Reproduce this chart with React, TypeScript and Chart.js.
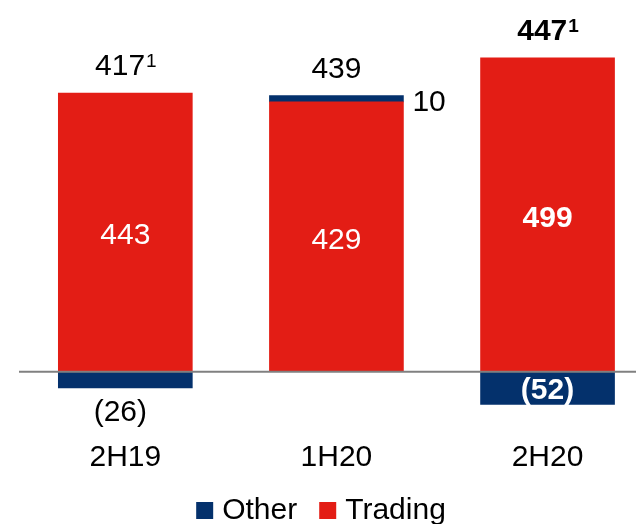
import React, { useEffect, useRef } from 'react';
import { Chart, registerables } from 'chart.js';

Chart.register(...registerables);

// ---- data ----
const categories = ['2H19', '1H20', '2H20'];
const tradingValues = [443, 429, 499];
const otherValues = [-26, 10, -52];
const totalValues = [417, 439, 447];
const totalFootnotes = ['1', '', '1'];

// ---- styles ----
const boldCategory = [false, false, true];
const otherLabelPlacement = ['below', 'right', 'inside'];
const RED = '#E31D15';
const NAVY = '#04316C';
const FONT = "'Liberation Sans', Arial, Helvetica, sans-serif";
const FS = 30;
const SUP = 19;
const X_MIN = -0.5936;
const X_MAX = 2.419;

const fmt = (v: number) => (v < 0 ? `(${Math.abs(v)})` : String(v));
const font = (size: number, bold: boolean) => `${bold ? 'bold ' : ''}${size}px ${FONT}`;

const labelPlugin = {
  id: 'customLabels',
  afterDraw(chart: any) {
    const ctx: CanvasRenderingContext2D = chart.ctx;
    const ys = chart.scales.y;
    const ca = chart.chartArea;
    const tradingMeta = chart.getDatasetMeta(0);
    const otherMeta = chart.getDatasetMeta(1);
    ctx.save();

    // zero baseline
    const y0 = ys.getPixelForValue(0);
    ctx.strokeStyle = '#808080';
    ctx.lineWidth = 2;
    ctx.beginPath();
    ctx.moveTo(19, y0);
    ctx.lineTo(ca.right, y0);
    ctx.stroke();

    const cap = FS * 0.716;
    ctx.textBaseline = 'alphabetic';

    categories.forEach((_, i) => {
      const bold = boldCategory[i];
      const tEl = tradingMeta.data[i];
      const oEl = otherMeta.data[i];

      // trading label, centered inside red segment
      ctx.fillStyle = '#fff';
      ctx.textAlign = 'center';
      ctx.font = font(FS, bold);
      const tMid = (tEl.y + tEl.base) / 2;
      ctx.fillText(fmt(tradingValues[i]), tEl.x, tMid + cap / 2 + 1);

      // other label
      const oTop = Math.min(oEl.y, oEl.base);
      const oBot = Math.max(oEl.y, oEl.base);
      const oMid = (oTop + oBot) / 2;
      const place = otherLabelPlacement[i];
      ctx.font = font(FS, bold);
      if (place === 'below') {
        ctx.fillStyle = '#000';
        ctx.textAlign = 'center';
        ctx.fillText(fmt(otherValues[i]), oEl.x - 5, oBot + 33);
      } else if (place === 'right') {
        ctx.fillStyle = '#000';
        ctx.textAlign = 'left';
        ctx.fillText(fmt(otherValues[i]), oEl.x + oEl.width / 2 + 9, oMid + cap / 2 + 2);
      } else {
        ctx.fillStyle = '#fff';
        ctx.textAlign = 'center';
        ctx.fillText(fmt(otherValues[i]), oEl.x, oMid + cap / 2);
      }

      // total label above positive stack
      let pos = 0;
      if (tradingValues[i] > 0) pos += tradingValues[i];
      if (otherValues[i] > 0) pos += otherValues[i];
      const topY = ys.getPixelForValue(pos);
      const base = topY - 18;
      const main = String(totalValues[i]);
      const sup = totalFootnotes[i];
      ctx.font = font(FS, bold);
      const wMain = ctx.measureText(main).width;
      ctx.font = font(SUP, bold);
      const wSup = sup ? ctx.measureText(sup).width : 0;
      const start = tEl.x - (wMain + wSup) / 2;
      ctx.fillStyle = '#000';
      ctx.textAlign = 'left';
      ctx.font = font(FS, bold);
      ctx.fillText(main, start, base);
      if (sup) {
        ctx.font = font(SUP, bold);
        ctx.fillText(sup, start + wMain + 1, base - (FS - SUP) * 0.716);
      }
    });

    // legend (Other, Trading)
    const items = [...chart.data.datasets].reverse();
    const box = 17;
    const gap = 9;
    const spacing = 22;
    ctx.font = font(FS, false);
    const widths = items.map((d: any) => box + gap + ctx.measureText(d.label).width);
    const total = widths.reduce((a: number, b: number) => a + b, 0) + spacing * (items.length - 1);
    let lx = chart.width / 2 + 3 - total / 2;
    const lBase = 519;
    items.forEach((d: any, k: number) => {
      ctx.fillStyle = d.backgroundColor;
      ctx.fillRect(lx, lBase - box, box, box);
      ctx.fillStyle = '#000';
      ctx.textAlign = 'left';
      ctx.fillText(d.label, lx + box + gap, lBase);
      lx += widths[k] + spacing;
    });

    ctx.restore();
  },
};

export default function App() {
  const ref = useRef<HTMLCanvasElement>(null);
  useEffect(() => {
    const chart = new Chart(ref.current as HTMLCanvasElement, {
      type: 'bar',
      data: {
        datasets: [
          {
            label: 'Trading',
            data: tradingValues.map((v, i) => ({ x: i, y: v })),
            backgroundColor: RED,
            stack: 's',
          },
          {
            label: 'Other',
            data: otherValues.map((v, i) => ({ x: i, y: v })),
            backgroundColor: NAVY,
            stack: 's',
          },
        ],
      } as any,
      options: {
        animation: false,
        responsive: false,
        devicePixelRatio: 1,
        layout: { padding: { top: 0, left: 0, right: 0, bottom: 30 } },
        datasets: { bar: { barThickness: 134 } },
        plugins: { legend: { display: false }, tooltip: { enabled: false } },
        scales: {
          x: {
            type: 'linear',
            min: X_MIN,
            max: X_MAX,
            offset: false,
            stacked: true,
            grid: { display: false, drawTicks: false, offset: false },
            border: { display: false },
            afterBuildTicks: (axis: any) => {
              axis.ticks = categories.map((_, i) => ({ value: i }));
            },
            ticks: {
              padding: 18,
              color: '#000',
              autoSkip: false,
              maxRotation: 0,
              font: { family: FONT, size: FS },
              callback: (v: any) => categories[v] ?? '',
            },
          },
          y: { display: false, stacked: true, min: -80, max: 591 },
        },
      } as any,
      plugins: [labelPlugin],
    });
    return () => chart.destroy();
  }, []);

  return (
    <div style={{ position: 'fixed', left: 0, top: 0, width: 636, height: 524, background: '#fff' }}>
      <canvas ref={ref} width={636} height={524} style={{ display: 'block' }} />
    </div>
  );
}
